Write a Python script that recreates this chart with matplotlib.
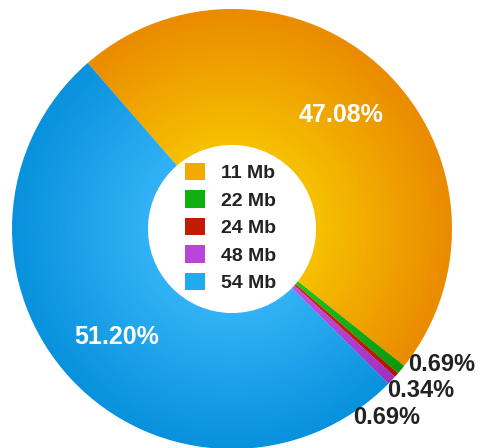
import matplotlib.pyplot as plt
import matplotlib
import numpy as np
from matplotlib.colors import to_rgb
from matplotlib.patches import Patch

matplotlib.rcParams['font.family'] = ['Liberation Sans', 'DejaVu Sans']

# data
labels = ['11 Mb', '22 Mb', '24 Mb', '48 Mb', '54 Mb']
values = [47.08, 0.69, 0.34, 0.69, 51.20]

# inner / outer colours for the radial gradient
inner_colors = ['#f6c000', '#25c025', '#d22a10', '#c453e2', '#32b2f6']
outer_colors = ['#ea8b00', '#0a9a0a', '#b01500', '#a030c0', '#0891dc']
legend_colors = ['#f2a900', '#10b010', '#c01c00', '#b845d8', '#20aaf0']

fig = plt.figure(figsize=(4.86, 4.48), dpi=100)
ax = fig.add_axes([0, 0, 1, 1])

r_in = 0.386
n_rings = 50
edges = np.linspace(r_in, 1.0, n_rings + 1)
start = 131
for k in range(n_rings):
    t = k / (n_rings - 1)
    cols = [tuple((1 - t) * np.array(to_rgb(a)) + t * np.array(to_rgb(b)))
            for a, b in zip(inner_colors, outer_colors)]
    wedges, _ = ax.pie(values, radius=edges[k + 1], colors=cols, startangle=start,
                       counterclock=False,
                       wedgeprops=dict(width=edges[k + 1] - edges[k] + 0.004,
                                       linewidth=0))

# place the pie: centre at (232, 229) px, radius 220 px
R = 220.0
ax.set_xlim(-232 / R, (486 - 232) / R)
ax.set_ylim(-(448 - 229) / R, 229 / R)
ax.set_aspect('equal')
ax.axis('off')

# percentage labels
theta = start - np.cumsum([0] + values[:-1]) * 3.6 - np.array(values) * 1.8
big = [0, 4]
for i in big:
    a = np.deg2rad(theta[i])
    ax.text(0.72 * np.cos(a), 0.72 * np.sin(a), f'{values[i]:.2f}%',
            ha='center', va='center', color='white', fontsize=18, fontweight='bold')

small_pos = {1: (0.80, -0.618), 2: (0.705, -0.732), 3: (0.55, -0.855)}
for i, (x, y) in small_pos.items():
    ax.text(x, y, f'{values[i]:.2f}%', ha='left', va='center', color='#222222',
            fontsize=17, fontweight='bold')

handles = [Patch(facecolor=c, edgecolor='none') for c in legend_colors]
leg = ax.legend(handles, labels, loc='center', bbox_to_anchor=(0.475, 0.492),
                frameon=False, fontsize=14, handlelength=1.0, handleheight=1.0,
                handletextpad=0.85, labelspacing=0.42, borderaxespad=0,
                borderpad=0)
for t in leg.get_texts():
    t.set_fontweight('bold')
    t.set_color('#222222')

fig.savefig('out.png', dpi=100)
